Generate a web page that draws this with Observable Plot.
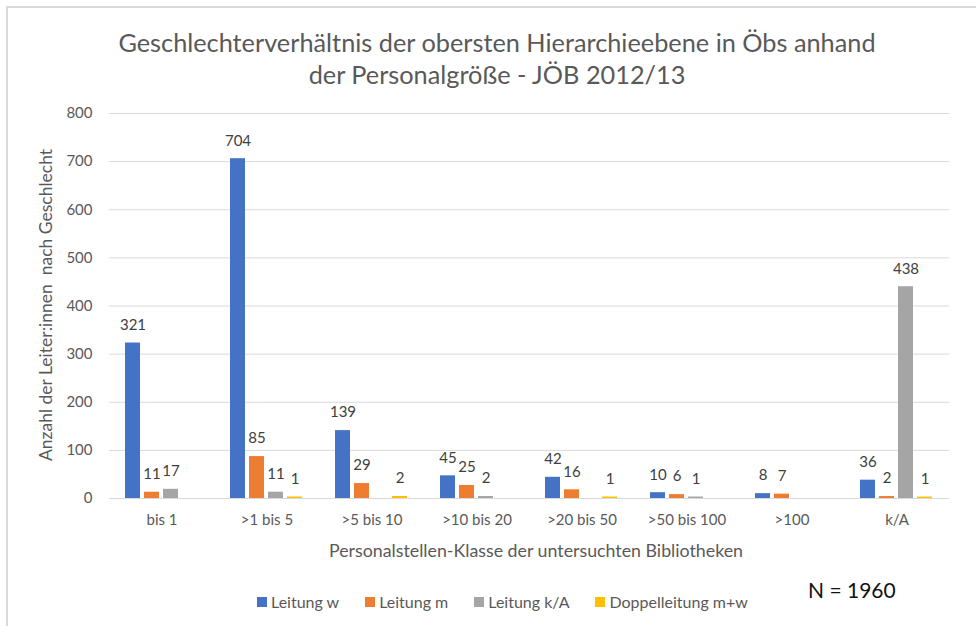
<!DOCTYPE html>
<html><head><meta charset="utf-8">
<script src="https://cdn.jsdelivr.net/npm/d3@7"></script>
<script src="https://cdn.jsdelivr.net/npm/@observablehq/plot@0.6"></script>
<style>
body{margin:0;background:#fff;font-family:Lato,"Open Sans",sans-serif;}
#wrap{position:relative;width:976px;height:626px;overflow:hidden;background:#fff}
#frame{position:absolute;left:6px;top:6px;width:980px;height:640px;border-left:2px solid #d9d9d9;border-top:2px solid #d9d9d9;box-sizing:border-box}
#chart{position:absolute;left:0;top:0}
#title{position:absolute;left:18px;width:958px;top:26px;text-align:center;font-size:25.3px;line-height:32px;color:#595959}
#ylabel{position:absolute;left:45px;top:305px;transform:translate(-50%,-50%) rotate(-90deg);white-space:nowrap;font-size:17.5px;color:#595959}
#xlabel{position:absolute;left:536px;top:550px;transform:translate(-50%,-50%);white-space:nowrap;font-size:17.8px;color:#595959}
#legend{position:absolute;left:257px;top:592px;display:flex;font-size:16px;color:#595959;line-height:20px}
#legend .item{display:flex;align-items:center;margin-right:26px}
#legend .sw{width:10px;height:10px;margin-right:4px}
#n{position:absolute;left:808px;top:576px;font-size:21px;color:#111;line-height:28px}
</style></head><body>
<div id="wrap">
 <div id="frame"></div>
 <div id="chart"></div>
 <div id="title">Geschlechterverhältnis der obersten Hierarchieebene in Öbs anhand<br>der Personalgröße - JÖB 2012/13</div>
 <div id="ylabel">Anzahl der Leiter:innen&nbsp; nach Geschlecht</div>
 <div id="xlabel">Personalstellen-Klasse der untersuchten Bibliotheken</div>
 <div id="legend"></div>
 <div id="n">N = 1960</div>
</div>
<script>
const categories = ["bis 1", ">1 bis 5", ">5 bis 10", ">10 bis 20", ">20 bis 50", ">50 bis 100", ">100", "k/A"];
const series = ["Leitung w", "Leitung m", "Leitung k/A", "Doppelleitung m+w"];
const leitungW = [321, 704, 139, 45, 42, 10, 8, 36];
const leitungM = [11, 85, 29, 25, 16, 6, 7, 2];
const leitungKA = [17, 11, null, 2, null, 1, null, 438];
const doppelleitung = [null, 1, 2, null, 1, null, null, 1];
const yTicks = [0, 100, 200, 300, 400, 500, 600, 700, 800];
const colors = ["#4472C4", "#ED7D31", "#A5A5A5", "#FFC000"];

const seriesValues = [leitungW, leitungM, leitungKA, doppelleitung];
const data = [];
categories.forEach((c, i) => {
  series.forEach((s, j) => {
    const v = seriesValues[j][i];
    if (v != null) data.push({category: c, series: s, value: v});
  });
});

const chart = Plot.plot({
  width: 976,
  height: 626,
  marginTop: 113,
  marginBottom: 128,
  marginLeft: 107,
  marginRight: 26,
  style: {fontFamily: "Lato, 'Open Sans', sans-serif", background: "transparent"},
  fx: {domain: categories, padding: 0, label: null},
  x: {domain: series, paddingInner: 0.19, paddingOuter: 0.77, axis: null},
  y: {domain: [0, 800], label: null},
  color: {domain: series, range: colors},
  marks: [
    Plot.gridY(yTicks, {stroke: "#d9d9d9", strokeOpacity: 1, strokeWidth: 1}),
    Plot.barY(data, {fx: "category", x: "series", y: "value", fill: "series", insetTop: -1}),
    Plot.text(data, {fx: "category", x: "series", y: "value", text: d => String(d.value), dy: -19, fill: "#404040", fontSize: 15}),
    Plot.axisY(yTicks, {tickSize: 0, tickPadding: 17, fontSize: 15, color: "#595959", label: null}),
    Plot.axisFx({anchor: "bottom", tickSize: 0, tickPadding: 16, fontSize: 15, color: "#595959", label: null})
  ]
});
document.getElementById("chart").appendChild(chart);

const legend = document.getElementById("legend");
series.forEach((s, i) => {
  const item = document.createElement("div");
  item.className = "item";
  const sw = document.createElement("span");
  sw.className = "sw";
  sw.style.background = colors[i];
  const t = document.createElement("span");
  t.textContent = s;
  item.appendChild(sw);
  item.appendChild(t);
  legend.appendChild(item);
});
</script>
</body></html>
